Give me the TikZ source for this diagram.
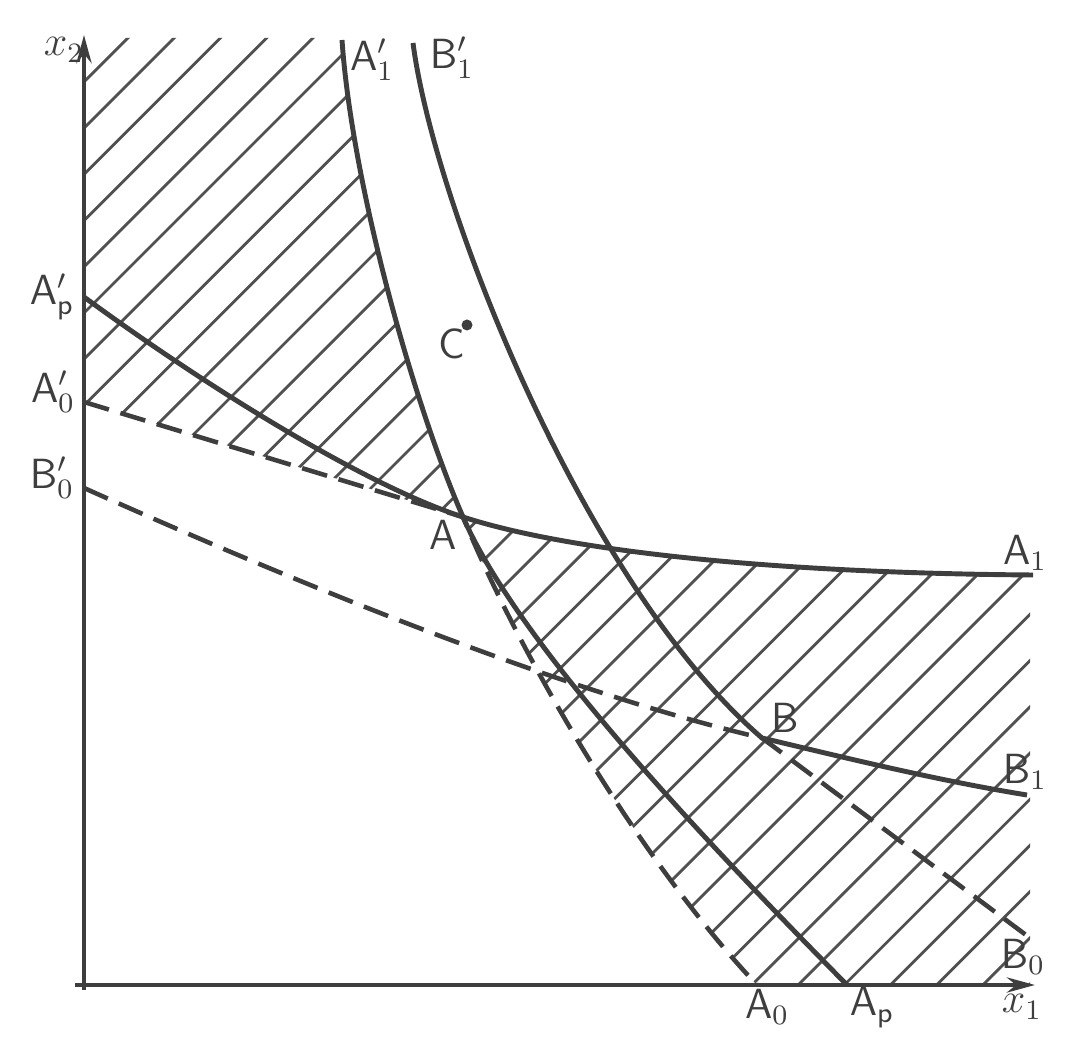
\documentclass[tikz,border=0pt]{standalone}
\usepackage{amsmath}
\usepackage{tikz}
\usetikzlibrary{arrows.meta}
\definecolor{ink}{RGB}{62,62,62}
\definecolor{hatchc}{RGB}{80,80,80}

\begin{document}
\begin{tikzpicture}[>={Stealth[length=2.8mm,width=1.5mm]},
  axis/.style={draw=ink,line width=1.4pt},
  curve/.style={draw=ink,line width=1.4pt},
  dashcurve/.style={draw=ink,line width=1.3pt,dash pattern=on 2.6mm off 1.2mm},
  hatch/.style={draw=hatchc,line width=0.8pt},
  lbl/.style={text=ink,font=\large\sffamily,inner sep=0pt},
  dot/.style={circle,fill=ink,inner sep=0pt,minimum size=1.1mm}]
  \useasboundingbox (-0.84,-0.75) rectangle (10.05,9.85);
  % key points
  \coordinate (A)     at (3.79,4.68);
  \coordinate (B)     at (6.78,2.47);
  \coordinate (a1top) at (2.58,9.45);
  \coordinate (b1top) at (3.29,9.42);
  \coordinate (apy)   at (0,6.88);
  \coordinate (aoy)   at (0,5.83);
  \coordinate (boy)   at (0,4.97);
  \coordinate (a1end) at (9.49,4.10);
  \coordinate (b1end) at (9.43,1.90);
  \coordinate (boend) at (9.46,0.47);
  \coordinate (aox)   at (6.73,0);
  \coordinate (apx)   at (7.63,0);
  \coordinate (xbeg)  at (-0.09,0);
  \coordinate (xend)  at (9.51,0);
  \coordinate (ybeg)  at (0,-0.05);
  \coordinate (yend)  at (0,9.50);

  % hatching, upper left
  \begin{scope}
    \clip (0,9.47) -- (2.58,9.47) -- (a1top) .. controls (2.68,8.0) and (3.3,5.8) .. (A) -- (aoy) -- cycle;
    \foreach \k in {0,...,19}
      \draw[hatch] ({-9.03+0.462*\k-1},-1) -- ++(12,12);
  \end{scope}
  % hatching, lower right
  \begin{scope}
    \clip (A) .. controls (4.8,4.35) and (6.8,4.12) .. (9.46,4.10) -- (9.46,0) -- (aox)
          .. controls (5.6,1.2) and (4.4,3.2) .. (A) -- cycle;
    \foreach \k in {16,...,41}
      \draw[hatch] ({-9.03+0.462*\k-1},-1) -- ++(12,12);
  \end{scope}

  % axes
  \draw[axis,->] (xbeg) -- (xend);
  \draw[axis,->] (ybeg) -- (yend);

  % curves
  \draw[curve] (a1top) .. controls (2.68,8.0) and (3.3,5.8) .. (A)
               .. controls (4.4,3.28) and (6.6,1.05) .. (apx);
  \draw[curve] (apy) .. controls (1.2,6.0) and (2.8,5.0) .. (A)
               .. controls (4.8,4.35) and (6.8,4.12) .. (a1end);
  \draw[curve] (b1top) .. controls (3.5,7.8) and (5.0,4.0) .. (B)
               .. controls (7.5,2.3) and (8.5,2.05) .. (b1end);
  \draw[dashcurve] (aoy) -- (A) .. controls (4.4,3.2) and (5.6,1.2) .. (aox);
  \draw[dashcurve] (boy) .. controls (1.5,4.3) and (4.5,3.0) .. (B) -- (boend);

  % point C
  \node[dot] (c) at (3.83,6.60) {};

  % labels
  \node[lbl] (lx2)  at (-0.20,9.35) {$x_2$};
  \node[lbl] (lx1)  at (9.38,-0.22) {$x_1$};
  \node[lbl] (la1t) at (2.88,9.25)  {$\mathsf{A}'_1$};
  \node[lbl] (lb1t) at (3.68,9.27)  {$\mathsf{B}'_1$};
  \node[lbl] (lapy) at (-0.32,6.88) {$\mathsf{A}'_{\mathsf{p}}$};
  \node[lbl] (laoy) at (-0.31,5.93) {$\mathsf{A}'_0$};
  \node[lbl] (lboy) at (-0.32,5.07) {$\mathsf{B}'_0$};
  \node[lbl] (lc)   at (3.68,6.41)  {C};
  \node[lbl] (la)   at (3.59,4.50)  {A};
  \node[lbl] (lb)   at (7.01,2.67)  {B};
  \node[lbl] (la1)  at (9.41,4.32)  {$\mathsf{A}_1$};
  \node[lbl] (lb1)  at (9.41,2.13)  {$\mathsf{B}_1$};
  \node[lbl] (lbo)  at (9.39,0.28)  {$\mathsf{B}_0$};
  \node[lbl] (lao)  at (6.83,-0.22) {$\mathsf{A}_0$};
  \node[lbl] (lap)  at (7.88,-0.22) {$\mathsf{A}_{\mathsf{p}}$};
\end{tikzpicture}
\end{document}
